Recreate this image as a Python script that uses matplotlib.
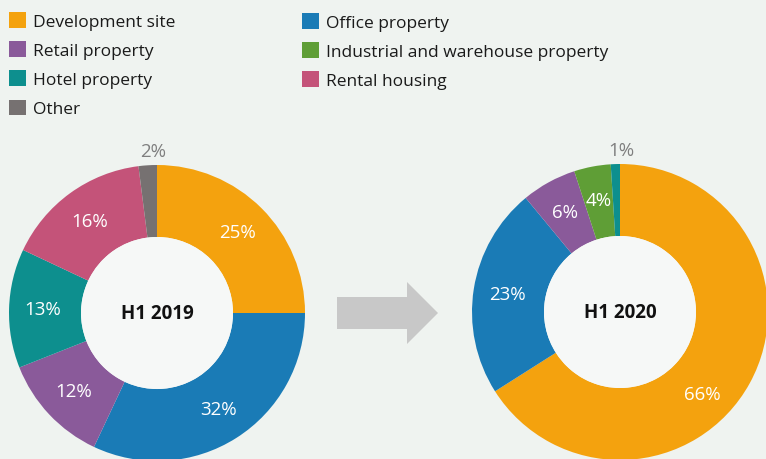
import matplotlib
matplotlib.use("Agg")
import matplotlib.pyplot as plt
from matplotlib.patches import Patch, Circle, FancyArrow
import numpy as np

plt.rcParams['font.family'] = ['Open Sans', 'DejaVu Sans']

# Data
categories = ["Development site", "Office property", "Retail property",
              "Industrial and warehouse property", "Hotel property",
              "Rental housing", "Other"]
colors = {
    "Development site": "#f4a20e",
    "Office property": "#1a7bb6",
    "Retail property": "#8a5a9a",
    "Industrial and warehouse property": "#5f9e36",
    "Hotel property": "#0d8f8e",
    "Rental housing": "#c45379",
    "Other": "#767171",
}

cats_2019 = ["Development site", "Office property", "Retail property",
             "Hotel property", "Rental housing", "Other"]
vals_2019 = [25, 32, 12, 13, 16, 2]

cats_2020 = ["Development site", "Office property", "Retail property",
             "Industrial and warehouse property", "Hotel property"]
vals_2020 = [66, 23, 6, 4, 1]

titles = ["H1 2019", "H1 2020"]

BG = "#eff3f0"
HOLE = "#f6f8f7"
W, H = 766, 460
R_OUT, R_IN = 148, 76


def draw_donut(ax, cats, vals, cx, cy, title):
    cols = [colors[c] for c in cats]
    ax.pie(vals, colors=cols, startangle=90, counterclock=False,
           radius=R_OUT, center=(cx, H - cy), frame=True,
           wedgeprops=dict(width=R_OUT - R_IN, edgecolor='none'))
    ax.add_patch(Circle((cx, H - cy), R_IN, facecolor=HOLE, edgecolor='none', zorder=3))
    ax.text(cx, H - cy, title, ha='center', va='center', fontsize=13.5,
            fontweight='bold', color='#111111', zorder=4)
    total = float(sum(vals))
    cum = np.cumsum(vals)
    for v, c in zip(vals, cum):
        frac = v / total
        mid = np.deg2rad(90 - (c - v / 2) / total * 360)
        if frac < 0.03:
            r, col, dx = 162, '#7f7f7f', 6
        else:
            r, col, dx = 114, 'white', 0
        # very large slices: Excel pulls the label towards the lower side
        if frac > 0.5:
            mid = np.deg2rad(-45)
            r = 116
        ax.text(cx + r * np.cos(mid) + dx, H - cy + r * np.sin(mid),
                f"{v}%", ha='center', va='center', fontsize=13.5,
                color=col, zorder=4)


fig = plt.figure(figsize=(W / 100, H / 100), dpi=100, facecolor=BG)
ax = fig.add_axes([0, 0, 1, 1])
ax.set_facecolor(BG)

draw_donut(ax, cats_2019, vals_2019, 157, 314, titles[0])
draw_donut(ax, cats_2020, vals_2020, 620, 313, titles[1])

# arrow between the donuts
ax.add_patch(FancyArrow(337, H - 314, 101, 0, width=32, head_width=62,
                        head_length=31, length_includes_head=True,
                        facecolor='#c8c8c8', edgecolor='none'))

ax.set_xlim(0, W)
ax.set_ylim(0, H)
ax.set_aspect('equal')
ax.axis('off')

# legend in two columns
col1 = ["Development site", "Retail property", "Hotel property", "Other"]
col2 = ["Office property", "Industrial and warehouse property", "Rental housing"]
legend_kw = dict(loc='upper left', frameon=False, fontsize=12.5, borderpad=0,
                 borderaxespad=0, handlelength=1.0, handleheight=1.0,
                 handletextpad=0.4, labelspacing=0.66, labelcolor='#1a1a1a')
leg1 = fig.legend(handles=[Patch(facecolor=colors[c], label=c) for c in col1],
                  bbox_to_anchor=(9 / W, 1 - 13 / H), **legend_kw)
leg2 = fig.legend(handles=[Patch(facecolor=colors[c], label=c) for c in col2],
                  bbox_to_anchor=(302 / W, 1 - 14 / H), **legend_kw)

fig.savefig("out.png", dpi=100, facecolor=BG)
